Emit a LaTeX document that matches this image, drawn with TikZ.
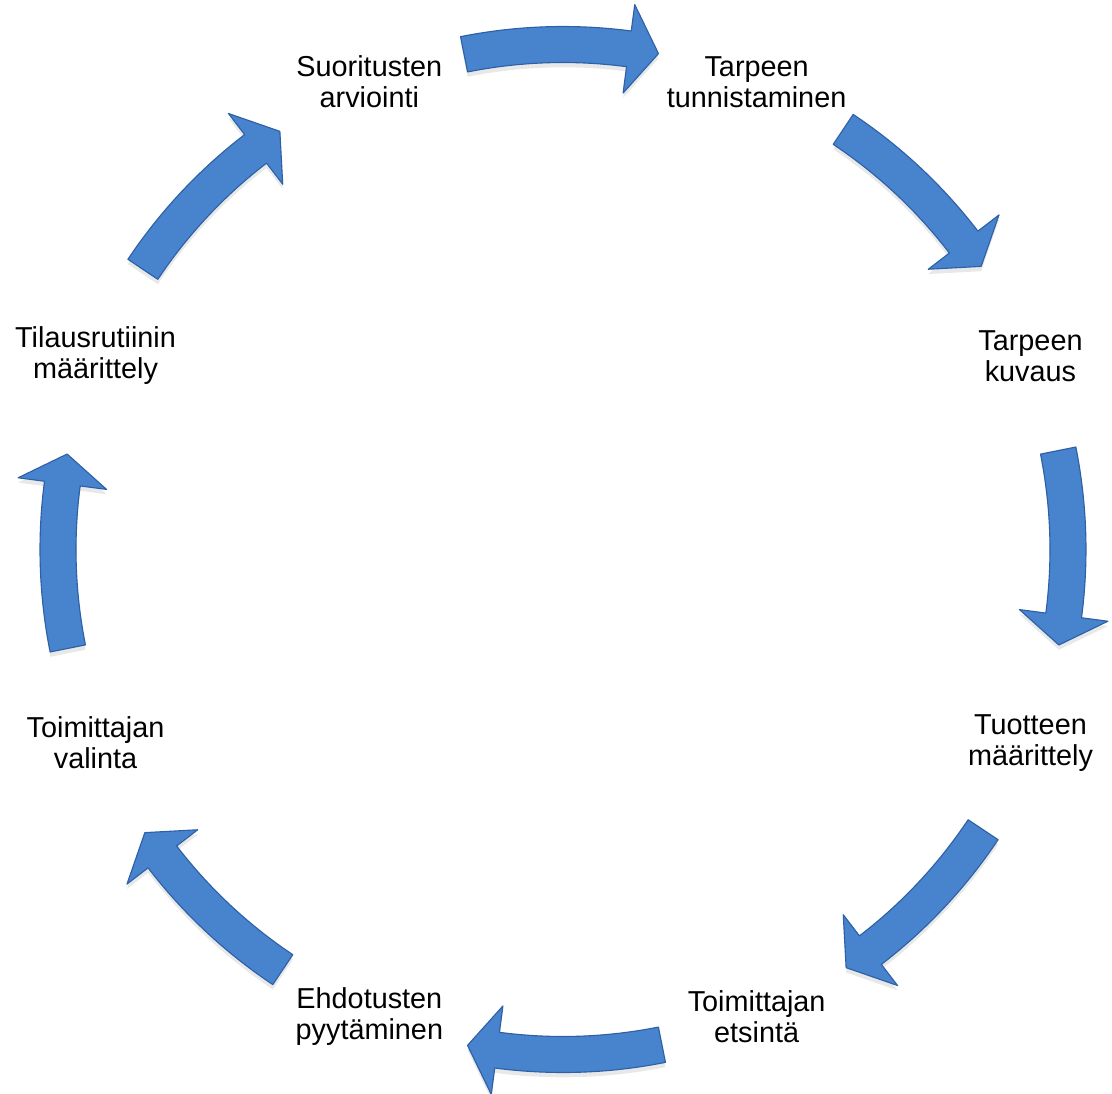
\documentclass[tikz,border=0pt]{standalone}
\usepackage{fontspec}
\setmainfont{Liberation Sans}
\usetikzlibrary{shadows}
\definecolor{cyblue}{RGB}{72,131,206}
\definecolor{cyedge}{RGB}{46,96,166}
\definecolor{cyink}{RGB}{0,0,0}

\begin{document}
\begin{tikzpicture}[
    % Phase labels sit between the arrows on the same circle.
    phase/.style={
        align=center,
        inner sep=0pt,
        font=\fontsize{20.5}{22}\selectfont,
        text=cyink
    },
    cyclearrow/.style={
        fill=cyblue,
        draw=cyedge,
        line width=0.8pt,
        line join=round,
        drop shadow={opacity=0.18, shadow xshift=0pt, shadow yshift=-1.2mm}
    }
]
    \useasboundingbox (-14.075,-13.5875) rectangle (13.725,13.7375);

    % Curved block arrows on one circle (r = 12.625), running clockwise.
    \foreach \a in {90,45,0,-45,-90,-135,-180,-225} {
        \pgfmathsetmacro{\tail}{\a+11.3}
        \pgfmathsetmacro{\neck}{\a-7.5}
        \pgfmathsetmacro{\tip}{\a-10.9}
        \draw[cyclearrow]
            (\tail:13.075) arc[start angle=\tail, end angle=\neck, radius=13.075cm]
            -- (\neck:13.74) -- (\tip:12.625) -- (\neck:11.51)
            -- (\neck:12.175) arc[start angle=\neck, end angle=\tail, radius=12.175cm]
            -- cycle;
    }

    \node[phase] (arviointi) at (112.5:12.65) {Suoritusten\\arviointi};
    \node[phase] (tunnistus) at (67.5:12.65) {Tarpeen\\tunnistaminen};
    \node[phase] (kuvaus) at (22.5:12.65) {Tarpeen\\kuvaus};
    \node[phase] (tuote) at (-22.5:12.65) {Tuotteen\\määrittely};
    \node[phase] (etsinta) at (-67.5:12.65) {Toimittajan\\etsintä};
    \node[phase] (ehdotukset) at (-112.5:12.65) {Ehdotusten\\pyytäminen};
    \node[phase] (valinta) at (-157.5:12.65) {Toimittajan\\valinta};
    \node[phase] (tilaus) at (157.5:12.65) {Tilausrutiinin\\määrittely};
\end{tikzpicture}
\end{document}
